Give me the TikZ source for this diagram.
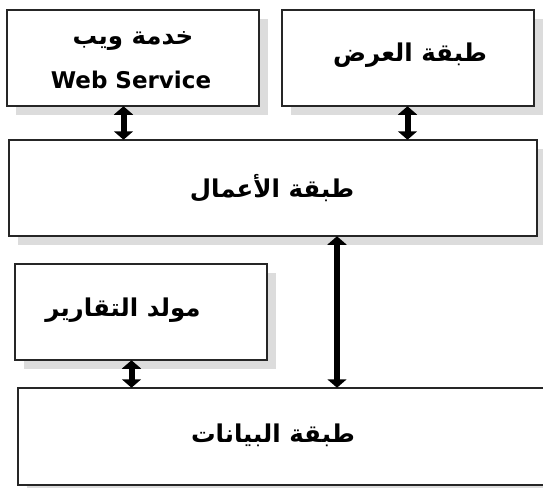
\documentclass[tikz,border=0pt]{standalone}
\usepackage{fontspec}
\setmainfont{DejaVu Sans}
\newfontfamily\arabicfont[Script=Arabic]{DejaVu Sans}
\TeXXeTstate=1
\usetikzlibrary{arrows.meta,shadows}
\definecolor{shadowgray}{HTML}{DCDCDC}
\definecolor{edgegray}{HTML}{262626}
\tikzset{
  layerbox/.style={draw=edgegray, line width=1.5pt, fill=white, rectangle, inner sep=0pt,
    drop shadow={shadow xshift=9pt, shadow yshift=-9pt, fill=shadowgray, opacity=1}},
  lbl/.style={inner sep=0pt, font=\fontsize{23}{28}\selectfont\bfseries},
  arlbl/.style={inner sep=0pt, font=\fontsize{24.5}{29}\selectfont\bfseries},
  dblarrow/.style={line width=6pt, {Triangle[width=19pt,length=8.5pt]}-{Triangle[width=19pt,length=8.5pt]}, shorten <=-0.5pt, shorten >=-0.5pt}
}
\newcommand{\ar}[1]{{\arabicfont\bfseries\beginR #1\endR}}
\begin{document}
\begin{tikzpicture}[x=1pt,y=-1pt]
\useasboundingbox (0,0) rectangle (543,487);
\clip (0,0) rectangle (543,487);
% boxes
\node[layerbox, minimum width=252pt, minimum height=96pt] (web) at (133,58) {};
\node[layerbox, minimum width=252pt, minimum height=96pt] (pres) at (408,58) {};
\node[layerbox, minimum width=528pt, minimum height=96pt] (biz) at (273,188) {};
\node[layerbox, minimum width=252pt, minimum height=96pt] (rep) at (141,312) {};
\node[layerbox, minimum width=540pt, minimum height=97pt] (data) at (288,436.5) {};
% labels
\node[arlbl] (weblbl1) at (133,41) {\ar{خدمة ويب}};
\node[lbl] (weblbl2) at (131,80) {Web Service};
\node[arlbl] (preslbl) at (410,55) {\ar{طبقة العرض}};
\node[arlbl] (bizlbl) at (272,188) {\ar{طبقة الأعمال}};
\node[arlbl] (replbl) at (123,310) {\ar{مولد التقارير}};
\node[arlbl] (datalbl) at (273,435) {\ar{طبقة البيانات}};
% connectors
\draw[dblarrow] (web.south -| 123.5,0) -- (biz.north -| 123.5,0);
\draw[dblarrow] (pres.south -| 407.5,0) -- (biz.north -| 407.5,0);
\draw[dblarrow] (biz.south -| 337,0) -- (data.north -| 337,0);
\draw[dblarrow] (rep.south -| 131.5,0) -- (data.north -| 131.5,0);
\end{tikzpicture}
\end{document}
